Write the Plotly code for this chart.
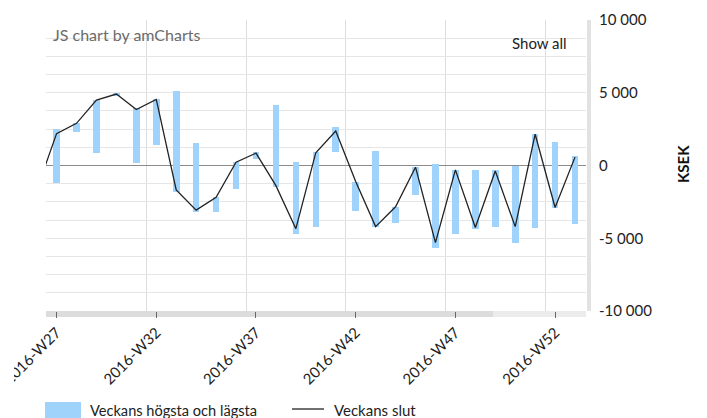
import plotly.graph_objects as go

# ---- data ----
weeks = list(range(27, 54))
week_high = [2540, 2930, 4500, 5000, 3920, 4545, 5140, 1570, -2190, 230, 920, 4150, 230, 900,
             2650, -1100, 970, -2840, -70, 115, -300, -300, -300, 0, 2150, 1610, 620]
week_low = [-1225, 2300, 850, 4775, 160, 1430, -1845, -3180, -3180, -1615, 415, -1450, -4680, -4200,
            920, -3110, -4200, -3920, -2000, -5650, -4680, -4340, -4200, -5300, -4270, -2900, -3990]
close_weeks = list(range(26, 54))
week_close = [-1700, 2190, 2900, 4500, 4910, 3850, 4545, -1680, -3070, -2190, 230, 850, -1385, -4340, 880,
              2375, -1100, -4200, -2840, -115, -5300, -300, -4260, -380, -4200, 2150, -2885, 575]
x_tick_vals = [27, 32, 37, 42, 47, 52]
x_tick_text = ["2016-W27", "2016-W32", "2016-W37", "2016-W42", "2016-W47", "2016-W52"]
y_tick_vals = [-10000, -5000, 0, 5000, 10000]
y_tick_text = ["-10 000", "-5 000", "0", "5 000", "10 000"]

BAR_COLOR = "#a0d3fc"
FONT = "Lato"
W, H = 707, 418
L, R, T, B = 46, 121, 20, 107
PW, PH = W - L - R, H - T - B


def px(x):
    return (x - L) / PW


def py(y):
    return (H - B - y) / PH


fig = go.Figure()
fig.add_trace(go.Bar(
    x=weeks, y=[h - l for h, l in zip(week_high, week_low)], base=week_low,
    width=0.33, marker=dict(color=BAR_COLOR, line=dict(width=0)),
    name="Veckans högsta och lägsta", showlegend=False))
fig.add_trace(go.Scatter(
    x=close_weeks, y=week_close, mode="lines",
    line=dict(color="#222222", width=1.3),
    name="Veckans slut", showlegend=False))

shapes = [
    # scrollbars
    dict(type="rect", xref="paper", yref="paper", x0=px(46), x1=px(586), y0=py(311), y1=py(317),
         fillcolor="#ececec", line=dict(width=0), layer="below"),
    dict(type="rect", xref="paper", yref="paper", x0=px(46), x1=px(493), y0=py(311), y1=py(317),
         fillcolor="#dcdcdc", line=dict(width=0), layer="below"),
    dict(type="rect", xref="paper", yref="paper", x0=px(587), x1=px(591), y0=py(20), y1=py(311),
         fillcolor="#e2e2e2", line=dict(width=0), layer="below"),
    # clipping of the first tick label at the chart's left edge
    dict(type="rect", xref="paper", yref="paper", x0=px(0), x1=px(14), y0=py(318), y1=py(395),
         fillcolor="white", line=dict(width=0), layer="above"),
    # legend markers
    dict(type="rect", xref="paper", yref="paper", x0=px(45), x1=px(81), y0=py(402), y1=py(418),
         fillcolor=BAR_COLOR, line=dict(width=0)),
    dict(type="line", xref="paper", yref="paper", x0=px(292), x1=px(324), y0=py(409), y1=py(409),
         line=dict(color="#222222", width=1.3)),
]

annotations = [
    dict(text="JS chart by amCharts", xref="paper", yref="paper", x=px(51), y=py(34),
         xanchor="left", yanchor="middle", showarrow=False, font=dict(family=FONT, size=16, color="#6b6b6b")),
    dict(text="Show all", xref="paper", yref="paper", x=px(569), y=py(43),
         xanchor="right", yanchor="middle", showarrow=False, font=dict(family=FONT, size=15, color="#222222")),
    dict(text="<b>KSEK</b>", xref="paper", yref="paper", x=px(683), y=py(164), textangle=-90,
         xanchor="center", yanchor="middle", showarrow=False, font=dict(family=FONT, size=15, color="#111111")),
    dict(text="Veckans högsta och lägsta", xref="paper", yref="paper", x=px(88), y=py(410),
         xanchor="left", yanchor="middle", showarrow=False, font=dict(family=FONT, size=14.6, color="#222222")),
    dict(text="Veckans slut", xref="paper", yref="paper", x=px(332), y=py(410),
         xanchor="left", yanchor="middle", showarrow=False, font=dict(family=FONT, size=15, color="#222222")),
]

fig.update_layout(
    width=W, height=H, margin=dict(l=L, r=R, t=T, b=B, autoexpand=False),
    paper_bgcolor="white", plot_bgcolor="white",
    font=dict(family=FONT, size=15, color="#222222"),
    shapes=shapes, annotations=annotations, bargap=0,
)
fig.update_xaxes(
    range=[26.47, 53.55], tickvals=x_tick_vals, ticktext=x_tick_text, tickangle=-45,
    ticks="outside", ticklen=6, tickcolor="#666666", showgrid=False, zeroline=False,
    ticklabeloverflow="allow",
    tickfont=dict(family=FONT, size=15, color="#222222"), automargin=False,
    minor=dict(tickvals=[26.5, 31.5, 36.5, 41.5, 46.5, 51.5], showgrid=True, gridcolor="#dddddd", ticks=""),
)
fig.update_yaxes(
    side="right", range=[-10000, 10000], tickvals=y_tick_vals, ticktext=y_tick_text,
    showgrid=True, gridcolor="#e6e6e6", zeroline=True, zerolinecolor="#8c8c8c", zerolinewidth=1,
    ticks="", ticklabelstandoff=12, tickfont=dict(family=FONT, size=15, color="#222222"),
    automargin=False,
    minor=dict(dtick=1250, showgrid=True, gridcolor="#e6e6e6"),
)

fig.write_html("out.html", config={"displayModeBar": False},
               post_script="document.body.style.margin='0px';")
